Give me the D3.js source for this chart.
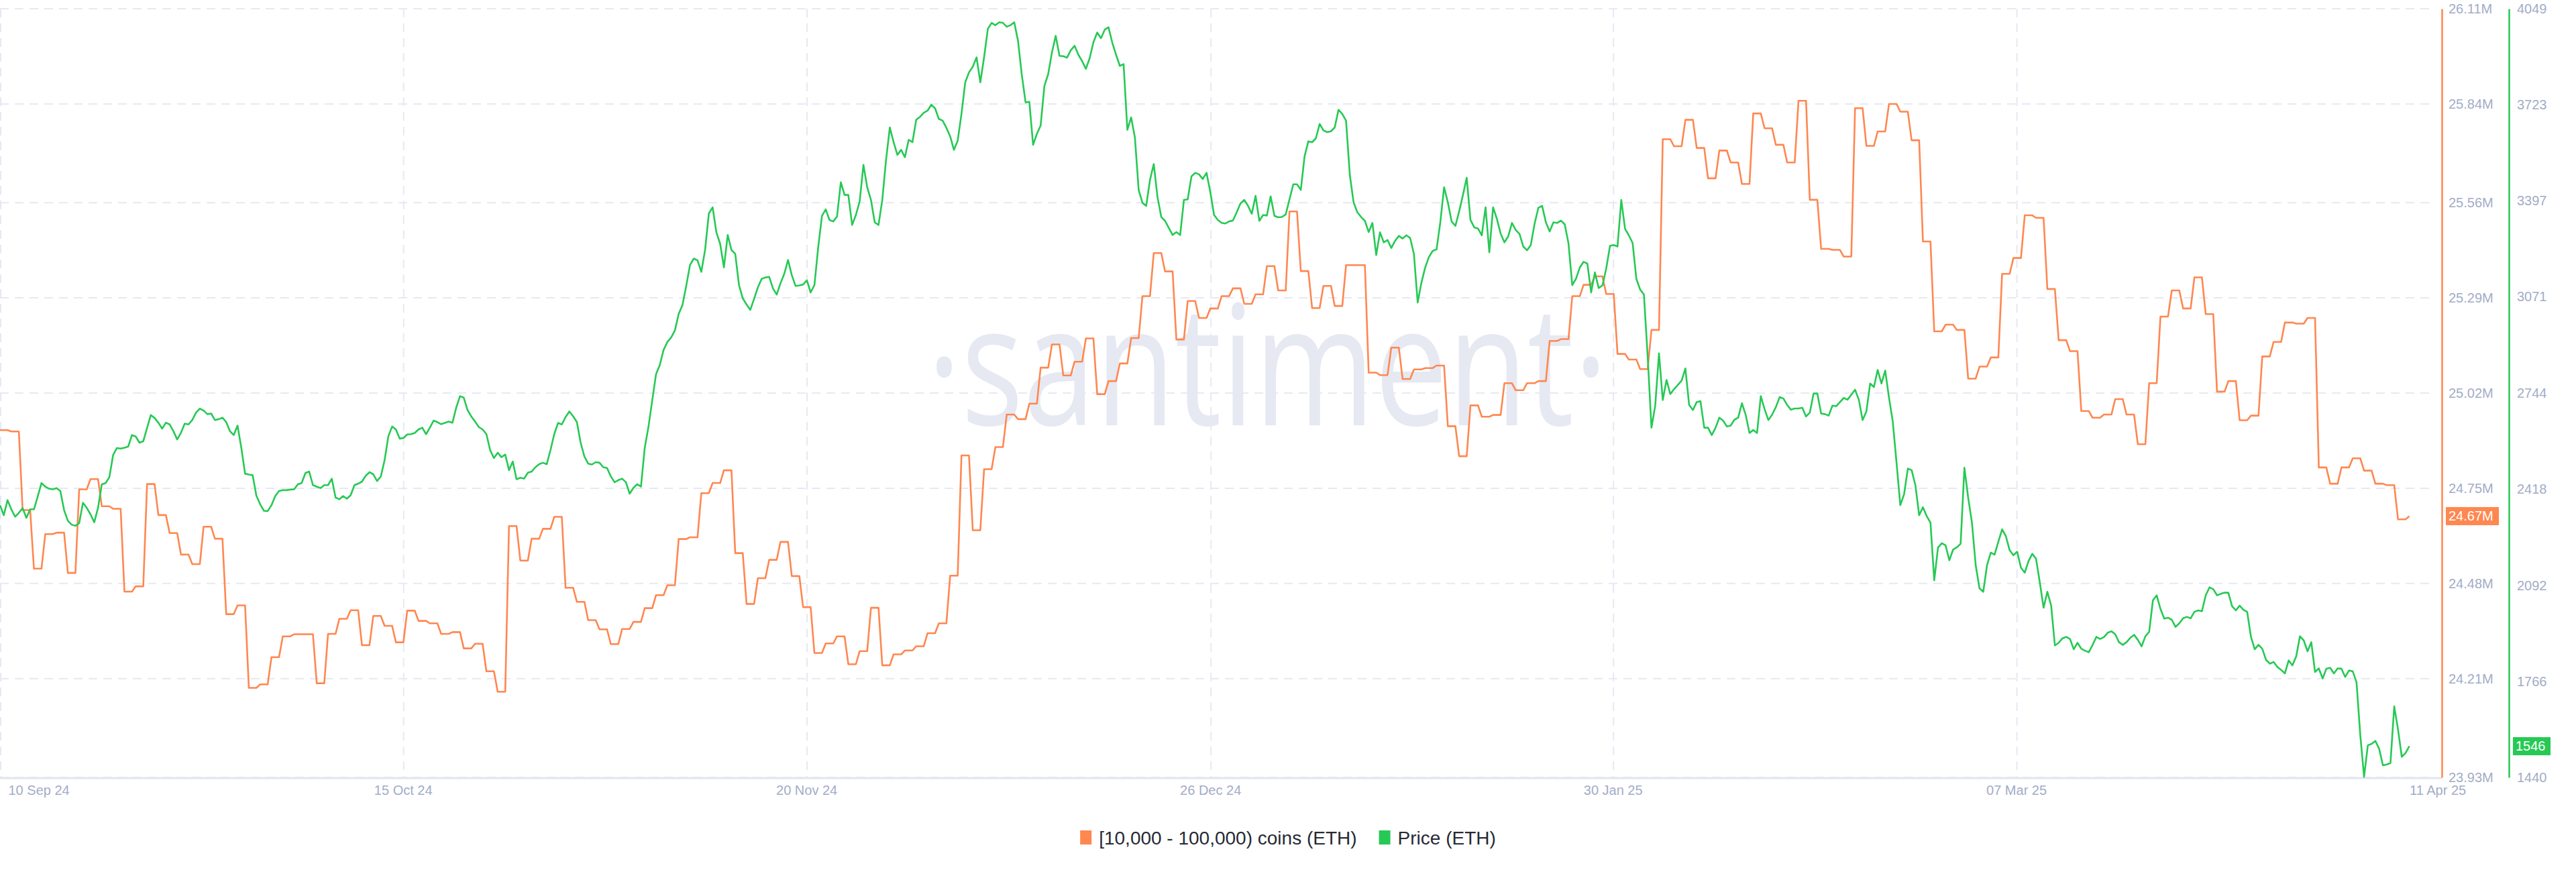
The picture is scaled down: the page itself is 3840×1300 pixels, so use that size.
<!DOCTYPE html>
<html>
<head>
<meta charset="utf-8">
<script src="https://cdn.jsdelivr.net/npm/d3@7"></script>
<style>
  body { margin: 0; background: #fff; }
  svg { display: block; }
</style>
</head>
<body>
<div id="chart"></div>
<script>
// ---- data -------------------------------------------------------------
// daily supply held by [10,000 - 100,000) ETH addresses, in millions, from 10 Sep 24
const holdersM = [
  24.915, 24.911, 24.688, 24.522, 24.620, 24.624, 24.510, 24.747, 24.776, 24.699,
  24.692, 24.457, 24.472, 24.762, 24.674, 24.623, 24.562, 24.535, 24.641, 24.607,
  24.393, 24.418, 24.184, 24.194, 24.271, 24.330, 24.336, 24.336, 24.197, 24.337,
  24.380, 24.404, 24.305, 24.388, 24.360, 24.313, 24.403, 24.374, 24.367, 24.337,
  24.342, 24.296, 24.309, 24.231, 24.173, 24.643, 24.545, 24.607, 24.635, 24.669,
  24.468, 24.428, 24.376, 24.350, 24.308, 24.351, 24.371, 24.410, 24.447, 24.475,
  24.606, 24.611, 24.736, 24.765, 24.801, 24.566, 24.422, 24.495, 24.547, 24.598,
  24.501, 24.413, 24.283, 24.310, 24.330, 24.251, 24.288, 24.411, 24.248, 24.279,
  24.290, 24.302, 24.339, 24.367, 24.502, 24.843, 24.631, 24.804, 24.867, 24.959,
  24.946, 24.990, 25.092, 25.158, 25.070, 25.109, 25.175, 25.017, 25.054, 25.104,
  25.176, 25.295, 25.417, 25.365, 25.172, 25.281, 25.233, 25.260, 25.295, 25.317,
  25.273, 25.300, 25.380, 25.311, 25.535, 25.366, 25.261, 25.324, 25.267, 25.383,
  25.383, 25.078, 25.071, 25.149, 25.060, 25.087, 25.091, 25.098, 24.926, 24.841,
  24.985, 24.953, 24.958, 25.048, 25.028, 25.048, 25.054, 25.168, 25.173, 25.295,
  25.327, 25.351, 25.301, 25.131, 25.115, 25.088, 25.199, 25.740, 25.720, 25.795,
  25.715, 25.629, 25.708, 25.674, 25.613, 25.813, 25.771, 25.724, 25.674, 25.849,
  25.568, 25.429, 25.426, 25.407, 25.828, 25.721, 25.762, 25.840, 25.818, 25.737,
  25.450, 25.195, 25.214, 25.199, 25.061, 25.095, 25.121, 25.358, 25.403, 25.524,
  25.517, 25.315, 25.170, 25.139, 24.969, 24.950, 24.959, 25.003, 24.959, 24.875,
  25.048, 25.237, 25.311, 25.260, 25.348, 25.244, 25.024, 25.054, 24.943, 24.956,
  25.124, 25.165, 25.220, 25.217, 25.233, 24.809, 24.763, 24.809, 24.835, 24.800,
  24.763, 24.759, 24.662, 24.671
];

// ETH price in USD, every 8 hours from 10 Sep 24
const priceEth = [
  2364, 2330, 2381, 2350, 2325, 2338, 2354, 2321, 2350, 2350,
  2393, 2439, 2427, 2420, 2418, 2422, 2412, 2347, 2311, 2298,
  2294, 2303, 2372, 2355, 2333, 2306, 2355, 2435, 2439, 2459,
  2534, 2558, 2556, 2559, 2563, 2602, 2597, 2576, 2581, 2626,
  2670, 2660, 2644, 2624, 2644, 2638, 2615, 2587, 2610, 2641,
  2638, 2653, 2678, 2692, 2685, 2673, 2675, 2653, 2656, 2661,
  2646, 2615, 2602, 2634, 2559, 2471, 2468, 2466, 2396, 2367,
  2345, 2344, 2364, 2395, 2412, 2415, 2415, 2417, 2418, 2435,
  2439, 2473, 2478, 2432, 2427, 2422, 2432, 2432, 2454, 2390,
  2384, 2395, 2386, 2398, 2432, 2437, 2444, 2464, 2476, 2469,
  2446, 2461, 2517, 2598, 2631, 2621, 2590, 2592, 2604, 2605,
  2609, 2621, 2627, 2605, 2627, 2651, 2646, 2639, 2643, 2648,
  2644, 2695, 2734, 2729, 2687, 2665, 2648, 2629, 2621, 2605,
  2551, 2524, 2542, 2527, 2536, 2483, 2512, 2452, 2457, 2454,
  2474, 2478, 2493, 2503, 2508, 2503, 2551, 2605, 2643, 2638,
  2663, 2682, 2666, 2646, 2576, 2529, 2505, 2502, 2510, 2508,
  2493, 2490, 2462, 2442, 2449, 2454, 2442, 2403, 2423, 2435,
  2427, 2559, 2631, 2721, 2809, 2840, 2891, 2918, 2933, 2957,
  3013, 3043, 3108, 3179, 3201, 3195, 3156, 3230, 3354, 3375,
  3290, 3251, 3171, 3281, 3230, 3217, 3111, 3066, 3045, 3027,
  3064, 3103, 3132, 3137, 3139, 3100, 3079, 3117, 3149, 3196,
  3145, 3108, 3110, 3113, 3127, 3086, 3111, 3239, 3346, 3368,
  3332, 3327, 3344, 3460, 3417, 3417, 3315, 3349, 3395, 3519,
  3443, 3400, 3324, 3315, 3400, 3536, 3646, 3596, 3553, 3570,
  3545, 3604, 3596, 3672, 3682, 3696, 3703, 3723, 3711, 3675,
  3669, 3645, 3616, 3570, 3601, 3692, 3799, 3833, 3852, 3884,
  3799, 3884, 3981, 4001, 3993, 4003, 4001, 3988, 3993, 4003,
  3940, 3825, 3731, 3733, 3587, 3624, 3653, 3787, 3827, 3901,
  3957, 3889, 3888, 3883, 3908, 3923, 3893, 3871, 3845, 3881,
  3935, 3968, 3949, 3978, 3986, 3934, 3893, 3855, 3861, 3638,
  3680, 3612, 3434, 3390, 3380, 3468, 3522, 3409, 3342, 3329,
  3305, 3281, 3291, 3281, 3400, 3402, 3480, 3492, 3487, 3471,
  3492, 3427, 3349, 3332, 3322, 3320, 3327, 3330, 3358, 3388,
  3400, 3380, 3353, 3414, 3329, 3349, 3347, 3412, 3346, 3341,
  3342, 3351, 3402, 3453, 3453, 3434, 3548, 3599, 3596, 3609,
  3658, 3636, 3630, 3633, 3646, 3706, 3692, 3669, 3485, 3392,
  3358, 3342, 3329, 3291, 3322, 3213, 3290, 3256, 3264, 3237,
  3261, 3278, 3269, 3280, 3271, 3217, 3052, 3120, 3171, 3207,
  3227, 3232, 3324, 3443, 3392, 3327, 3312, 3361, 3417, 3475,
  3332, 3307, 3303, 3280, 3375, 3222, 3375, 3336, 3286, 3256,
  3276, 3322, 3298, 3285, 3242, 3229, 3247, 3319, 3373, 3380,
  3324, 3293, 3324, 3322, 3330, 3317, 3252, 3111, 3133, 3171,
  3190, 3184, 3086, 3154, 3101, 3110, 3167, 3244, 3247, 3242,
  3400, 3302, 3280, 3254, 3132, 3096, 3079, 2868, 2627, 2702,
  2879, 2721, 2789, 2741, 2758, 2772, 2787, 2828, 2704, 2687,
  2714, 2717, 2627, 2627, 2602, 2627, 2661, 2651, 2631, 2634,
  2654, 2661, 2710, 2670, 2609, 2619, 2609, 2734, 2690, 2653,
  2671, 2697, 2731, 2726, 2704, 2688, 2692, 2692, 2695, 2665,
  2678, 2743, 2743, 2675, 2673, 2668, 2702, 2700, 2714, 2728,
  2722, 2739, 2756, 2722, 2653, 2682, 2777, 2765, 2823, 2777,
  2821, 2729, 2648, 2508, 2364, 2401, 2488, 2483, 2432, 2330,
  2357, 2327, 2305, 2109, 2220, 2235, 2228, 2177, 2213, 2221,
  2233, 2491, 2390, 2305, 2160, 2082, 2070, 2160, 2203, 2196,
  2240, 2282, 2259, 2211, 2194, 2206, 2152, 2135, 2174, 2199,
  2182, 2102, 2016, 2070, 2024, 1888, 1897, 1912, 1917, 1910,
  1875, 1897, 1877, 1870, 1865, 1890, 1917, 1910, 1916, 1931,
  1936, 1926, 1899, 1890, 1899, 1914, 1924, 1907, 1885, 1919,
  1934, 2041, 2058, 2012, 1979, 1982, 1975, 1951, 1963, 1980,
  1985, 1980, 2002, 2007, 2004, 2058, 2085, 2079, 2058, 2063,
  2067, 2067, 2021, 2007, 2023, 2009, 2002, 1917, 1875, 1890,
  1877, 1839, 1826, 1832, 1815, 1805, 1793, 1837, 1820, 1851,
  1919, 1905, 1868, 1899, 1798, 1810, 1776, 1809, 1812, 1793,
  1810, 1809, 1781, 1803, 1800, 1763, 1583, 1442, 1549, 1554,
  1564, 1537, 1481, 1484, 1489, 1681, 1603, 1510, 1523, 1546
];

const holderTicks = [23.93, 24.21, 24.48, 24.75, 25.02, 25.29, 25.56, 25.84, 26.11];
const priceTicks  = [1440, 1766, 2092, 2418, 2744, 3071, 3397, 3723, 4049];
const dateTicks   = ['2024-09-10T00:00Z', '2024-10-15T15:00Z', '2024-11-20T07:00Z',
                     '2024-12-26T00:00Z', '2025-01-30T14:00Z', '2025-03-07T06:00Z',
                     '2025-04-11T00:00Z'];
const seriesNames  = ['[10,000 - 100,000) coins (ETH)', 'Price (ETH)'];
const seriesColors = ['#ff8750', '#26c954'];

// ---- layout -----------------------------------------------------------
const W = 3840, H = 1300;
const plot = { left: 0, right: 3640, top: 13, bottom: 1159 };
const HOUR = 3600e3;
const t0 = Date.UTC(2024, 8, 10);
const labelColor = '#a3acc7';
const gridColor  = '#e6e9f3';
const font = '"Liberation Sans", Arial, Helvetica, sans-serif';

const holders = holdersM.map((v, i) => ({ date: new Date(t0 + i * 24 * HOUR), v }));
const price   = priceEth.map((v, i) => ({ date: new Date(t0 + i * 8 * HOUR), v }));

const x = d3.scaleUtc()
  .domain([new Date(t0), new Date(Date.UTC(2025, 3, 13, 21))])
  .range([plot.left, plot.right]);
const yH = d3.scaleLinear().domain([23.93, 26.11]).range([plot.bottom, plot.top]);
const yP = d3.scaleLinear().domain([1440, 4049]).range([plot.bottom, plot.top]);

const svg = d3.select('#chart').append('svg')
  .attr('width', W).attr('height', H)
  .style('font-family', font);

// watermark
svg.append('text')
  .attr('x', 1382).attr('y', 634)
  .attr('textLength', 1015).attr('lengthAdjust', 'spacingAndGlyphs')
  .style('font-family', '"Open Sans", sans-serif')
  .style('font-size', '249px')
  .attr('fill', '#e6e9f2')
  .text('\u00B7santiment\u00B7');

// -- grid -----------------------------------------------------------------
const grid = svg.append('g')
  .attr('stroke', gridColor).attr('stroke-width', 2)
  .attr('stroke-dasharray', '13,9').attr('fill', 'none');

grid.selectAll('line.h').data(holderTicks).join('line')
  .attr('class', 'h')
  .attr('x1', plot.left).attr('x2', 3626)
  .attr('y1', d => yH(d)).attr('y2', d => yH(d));

grid.selectAll('line.v').data(dateTicks.slice(0, -1)).join('line')
  .attr('class', 'v')
  .attr('x1', d => x(new Date(d)) + 1).attr('x2', d => x(new Date(d)) + 1)
  .attr('y1', plot.top).attr('y2', plot.bottom);

// bottom axis line
svg.append('line')
  .attr('x1', plot.left).attr('x2', plot.right)
  .attr('y1', plot.bottom + 1).attr('y2', plot.bottom + 1)
  .attr('stroke', '#e1e6ef').attr('stroke-width', 3);

// -- x axis labels ---------------------------------------------------------
const fmtDate = d3.utcFormat('%d %b %y');
const xAxis = svg.append('g')
  .attr('transform', `translate(0,${plot.bottom})`)
  .call(d3.axisBottom(x)
    .tickValues(dateTicks.map(d => new Date(d)))
    .tickFormat(fmtDate)
    .tickSize(0).tickPadding(12));
xAxis.select('.domain').remove();
xAxis.selectAll('text')
  .style('font-size', '20px').style('font-family', font)
  .attr('fill', labelColor);
const lastTick = dateTicks.length - 1;
xAxis.selectAll('.tick').each(function (d, i) {
  const t = d3.select(this).select('text');
  if (i === 0) t.attr('text-anchor', 'start').attr('x', 12);
  if (i === lastTick) t.attr('text-anchor', 'start').attr('x', 0);
});

// -- lines -------------------------------------------------------------------
// hold each daily value for two thirds of the step, then slope to the next one
function curveHold(context) {
  let px, py, first;
  return {
    areaStart() {}, areaEnd() {},
    lineStart() { first = true; },
    lineEnd() {},
    point(x1, y1) {
      if (first) { context.moveTo(x1, y1); first = false; }
      else {
        context.lineTo(px + (x1 - px) * 2 / 3, py);
        context.lineTo(x1, y1);
      }
      px = x1; py = y1;
    }
  };
}

svg.append('path')
  .datum(holders)
  .attr('fill', 'none')
  .attr('stroke', seriesColors[0])
  .attr('stroke-width', 2.6)
  .attr('stroke-linejoin', 'round')
  .attr('d', d3.line().curve(curveHold).x(d => x(d.date)).y(d => yH(d.v)));

svg.append('path')
  .datum(price)
  .attr('fill', 'none')
  .attr('stroke', seriesColors[1])
  .attr('stroke-width', 2.6)
  .attr('stroke-linejoin', 'round')
  .attr('d', d3.line().x(d => x(d.date)).y(d => yP(d.v)));

// -- right axes --------------------------------------------------------------
function rightAxis(scale, ticks, fmt, xPos, color, pad) {
  const g = svg.append('g')
    .attr('transform', `translate(${xPos},0)`)
    .call(d3.axisRight(scale).tickValues(ticks).tickFormat(fmt)
      .tickSize(0).tickSizeOuter(0).tickPadding(pad));
  g.select('.domain').attr('stroke', color).attr('stroke-width', 2.5);
  g.selectAll('text')
    .style('font-size', '20px').style('font-family', font)
    .attr('fill', labelColor);
  return g;
}
rightAxis(yH, holderTicks, d => d.toFixed(2) + 'M', plot.right, seriesColors[0], 10);
rightAxis(yP, priceTicks, d => String(d), 3740, seriesColors[1], 12);

// last value badges
function badge(xPos, yPos, w, color, label) {
  const g = svg.append('g').attr('transform', `translate(${xPos},${yPos})`);
  g.append('rect').attr('x', 0).attr('y', -13.5).attr('width', w).attr('height', 27)
    .attr('fill', color);
  g.append('text').attr('x', 4).attr('dy', '0.35em')
    .style('font-size', '20px').attr('fill', '#fff').text(label);
}
const lastH = holdersM[holdersM.length - 1];
const lastP = priceEth[priceEth.length - 1];
badge(plot.right + 6, yH(lastH), 79, seriesColors[0], lastH.toFixed(2) + 'M');
badge(3746, yP(lastP), 56, seriesColors[1], String(lastP));

// -- legend ------------------------------------------------------------------
const legend = svg.append('g').attr('transform', 'translate(0,1249)');
const items = legend.selectAll('g').data(seriesNames).join('g');
items.append('rect')
  .attr('width', 17).attr('height', 21).attr('y', -11)
  .attr('fill', (d, i) => seriesColors[i]);
items.append('text')
  .attr('x', 28).attr('dy', '0.35em')
  .style('font-size', '28px').attr('fill', '#262a36')
  .text(d => d);
let widths = [];
items.each(function () { widths.push(28 + d3.select(this).select('text').node().getComputedTextLength()); });
const gap = 33;
const total = d3.sum(widths) + gap * (widths.length - 1);
let cx = W / 2 - total / 2;
items.attr('transform', (d, i) => {
  const tx = cx;
  cx += widths[i] + gap;
  return `translate(${tx},0)`;
});
</script>
</body>
</html>
